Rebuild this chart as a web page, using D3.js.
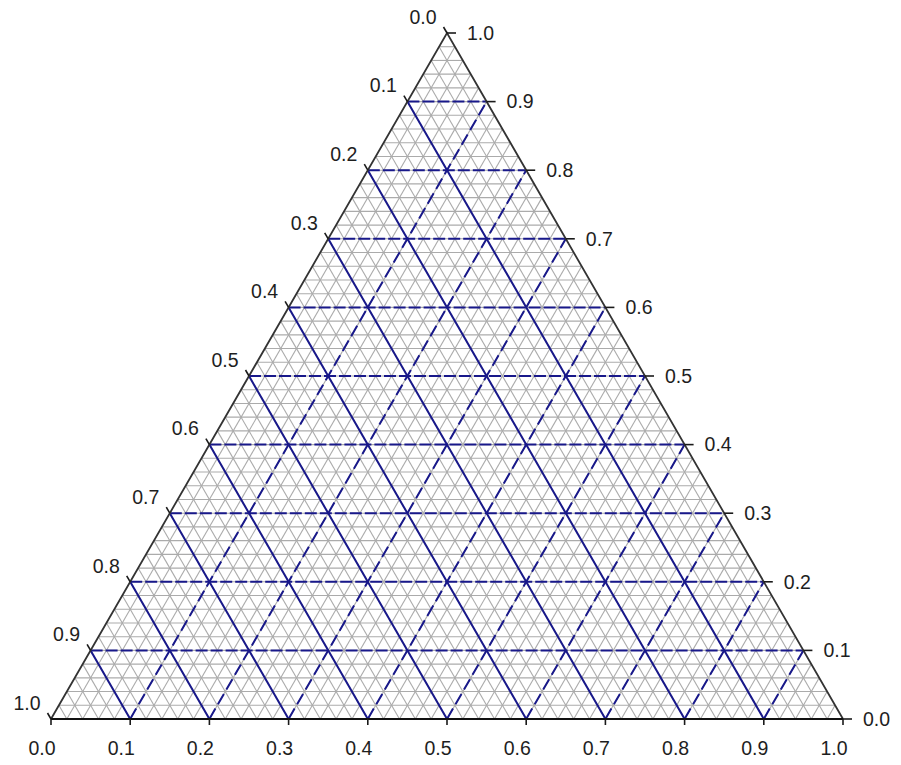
<!DOCTYPE html>
<html>
<head>
<meta charset="utf-8">
<script src="https://cdn.jsdelivr.net/npm/d3@7"></script>
<style>
  html, body { margin: 0; padding: 0; background: #fff; }
  svg { display: block; }
  text { font-family: "Liberation Sans", Arial, sans-serif; font-size: 19.5px; fill: #1e1e1e; }
</style>
</head>
<body>
<svg id="chart" width="901" height="765"></svg>
<script>
// Ternary diagram: grid values and tick labels
const majorLevels = [0.1, 0.2, 0.3, 0.4, 0.5, 0.6, 0.7, 0.8, 0.9];
const tickValues = [0.0, 0.1, 0.2, 0.3, 0.4, 0.5, 0.6, 0.7, 0.8, 0.9, 1.0];
const bottomTickLabels = ["0.0", "0.1", "0.2", "0.3", "0.4", "0.5", "0.6", "0.7", "0.8", "0.9", "1.0"];
const leftTickLabels = ["0.0", "0.1", "0.2", "0.3", "0.4", "0.5", "0.6", "0.7", "0.8", "0.9", "1.0"];
const rightTickLabels = ["0.0", "0.1", "0.2", "0.3", "0.4", "0.5", "0.6", "0.7", "0.8", "0.9", "1.0"];
const minorStep = 0.02;

const svg = d3.select("#chart");

// Horizontal position across the base, vertical position by height fraction
const xScale = d3.scaleLinear().domain([0, 1]).range([51, 843]);
const yScale = d3.scaleLinear().domain([0, 1]).range([719, 33]);

const pt = (xf, hf) => [xScale(xf), yScale(hf)];
const bottomPt = t => pt(t, 0);                 // bottom edge, 0 at left
const leftPt = v => pt((1 - v) / 2, 1 - v);     // left edge, 0 at apex
const rightPt = t => pt(1 - t / 2, t);          // right edge, 0 at bottom-right

const minorLevels = d3.range(1, Math.round(1 / minorStep)).map(i => +(i * minorStep).toFixed(4));

const segs = (levels, fn) => levels.map(t => fn(t));
const line = d3.line();

// Fine grid in three directions
const gMinor = svg.append("g")
  .attr("fill", "none").attr("stroke", "#ababab").attr("stroke-width", 1.1);
gMinor.selectAll("path.h").data(segs(minorLevels, t => [leftPt(1 - t), rightPt(t)]))
  .join("path").attr("d", line);
gMinor.selectAll("path.a").data(segs(minorLevels, t => [bottomPt(t), leftPt(1 - t)]))
  .join("path").attr("d", line);
gMinor.selectAll("path.b").data(segs(minorLevels, t => [bottomPt(t), rightPt(1 - t)]))
  .join("path").attr("d", line);

// Major grid lines
const gMajor = svg.append("g").attr("fill", "none").attr("stroke", "#18188a").attr("stroke-width", 2);
gMajor.append("g").attr("stroke-dasharray", "12,3")
  .selectAll("path").data(segs(majorLevels, t => [leftPt(1 - t), rightPt(t)]))
  .join("path").attr("d", line);
gMajor.append("g")
  .selectAll("path").data(segs(majorLevels, t => [bottomPt(t), leftPt(1 - t)]))
  .join("path").attr("d", line);
gMajor.append("g").attr("stroke-dasharray", "12,5")
  .selectAll("path").data(segs(majorLevels, t => [bottomPt(t), rightPt(1 - t)]))
  .join("path").attr("d", line);

// Triangle outline
const BL = bottomPt(0), BR = bottomPt(1), AP = rightPt(1);
svg.append("path").attr("d", line([BL, AP, BR]))
  .attr("fill", "none").attr("stroke", "#333").attr("stroke-width", 1.8);
svg.append("path").attr("d", line([BL, BR]))
  .attr("fill", "none").attr("stroke", "#111").attr("stroke-width", 2.2);

// Ticks
const gTicks = svg.append("g").attr("stroke", "#1a1a1a").attr("stroke-width", 1.6);
tickValues.forEach(t => {
  const b = bottomPt(t);
  gTicks.append("line").attr("x1", b[0]).attr("y1", b[1]).attr("x2", b[0]).attr("y2", b[1] + 6);
  const l = leftPt(t);
  gTicks.append("line").attr("x1", l[0]).attr("y1", l[1]).attr("x2", l[0] - 3.5).attr("y2", l[1] - 6);
  const r = rightPt(t);
  gTicks.append("line").attr("x1", r[0]).attr("y1", r[1]).attr("x2", r[0] + 9).attr("y2", r[1]);
});

// Tick labels
const gLabels = svg.append("g");
tickValues.forEach((t, i) => {
  const b = bottomPt(t);
  gLabels.append("text").attr("x", b[0] - 9).attr("y", b[1] + 29)
    .attr("text-anchor", "middle").attr("dy", "0.35em").text(bottomTickLabels[i]);
  const l = leftPt(t);
  gLabels.append("text").attr("x", l[0] - 24).attr("y", l[1] - 16)
    .attr("text-anchor", "middle").attr("dy", "0.35em").text(leftTickLabels[i]);
  const r = rightPt(t);
  gLabels.append("text").attr("x", r[0] + 20).attr("y", r[1])
    .attr("text-anchor", "start").attr("dy", "0.35em").text(rightTickLabels[i]);
});
</script>
</body>
</html>
